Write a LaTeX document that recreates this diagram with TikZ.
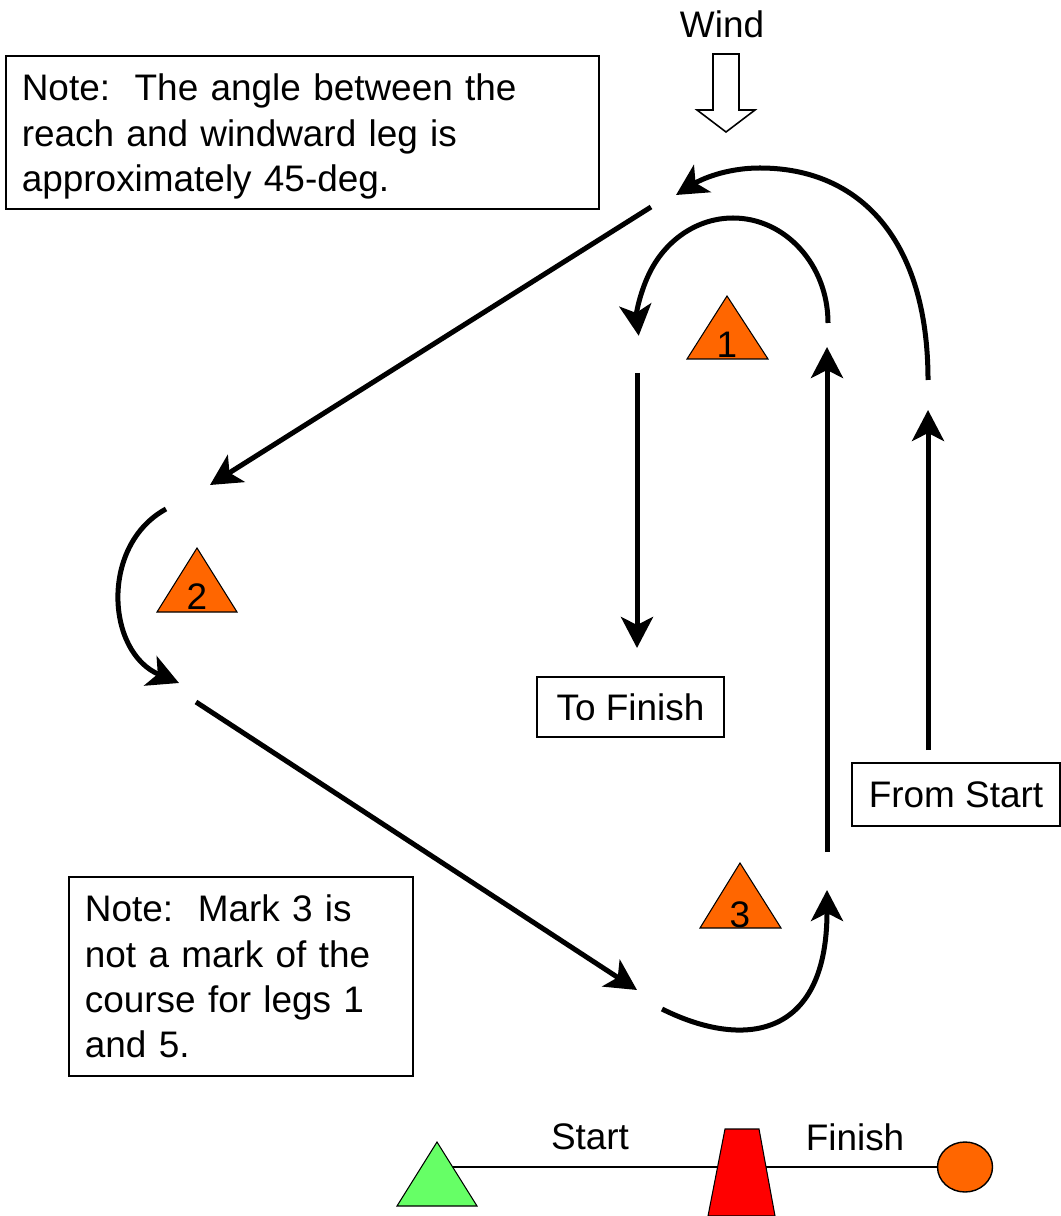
\documentclass[tikz,border=0pt]{standalone}
\usepackage{fontspec}
\setmainfont{Liberation Sans}
\usetikzlibrary{arrows.meta}
\definecolor{markorange}{RGB}{255,102,0}
\definecolor{pingreen}{RGB}{102,255,102}

\begin{document}
\begin{tikzpicture}[x=0.01cm, y=-0.01cm,
		every node/.style={font=\fontsize{10.5}{12.9}\selectfont},
		leg/.style={line width=0.05cm, -{Stealth[length=0.31cm, width=0.32cm, inset=0.08cm]}},
		buoy/.style={draw=black, line width=0.3pt, fill=markorange},
		notebox/.style={draw, line width=0.4pt, align=left, inner xsep=0.16cm, inner ysep=0pt},
		labelbox/.style={draw, line width=0.4pt, inner sep=0pt}]
		%%%%% START %%%%%
		\useasboundingbox (0,0) rectangle (1060,1216);
		
		% wind
		\node (wind) at (722,24) {Wind};
		\draw[line width=0.45pt] (713,54) -- (739,54) -- (739,110) -- (755,110) -- (726,132) -- (697,110) -- (713,110) -- cycle;
		
		% notes
		\node[notebox, text width=5.61cm, minimum height=1.53cm] (note1) at (302.5,132.5) {\rule{0pt}{0.35cm}Note:\ \ The angle between the\\reach and windward leg is\\approximately 45-deg.};
		\node[notebox, text width=3.12cm, minimum height=1.99cm] (note2) at (241,976.5) {Note:\ \ Mark 3 is\\not a mark of the\\course for legs 1\\and 5.};
		\node[labelbox, minimum width=1.87cm, minimum height=0.6cm] (tofinish) at (630.5,707) {To Finish};
		\node[labelbox, minimum width=2.08cm, minimum height=0.63cm] (fromstart) at (956,794.5) {From Start};
		
		% marks
		\draw[buoy] (727,296) -- (768,359) -- (687,359) -- cycle;
		\node (m1) at (727,345) {1};
		\draw[buoy] (197,548) -- (237,612) -- (157,612) -- cycle;
		\node (m2) at (197,597) {2};
		\draw[buoy] (740,863) -- (781,928) -- (700,928) -- cycle;
		\node (m3) at (740,915) {3};
		
		% legs
		\draw[leg] (651,207) -- (210,485);
		\draw[leg] (166,509) .. controls (100,545) and (106,652) .. (179,683);
		\draw[leg] (196,702) -- (637,990);
		\draw[leg] (662,1009) .. controls (742,1049) and (827,1040) .. (827,890);
		\draw[leg] (827,852) -- (827,347);
		\draw[leg] (828,323) arc[start angle=0, end angle=-187, x radius=95, y radius=105];
		\draw[leg] (637,373) -- (637,648);
		\draw[leg] (928,750) -- (928,410);
		\draw[leg] (928,380) .. controls (928,240) and (860,168) .. (760,168) .. controls (725,168) and (700,180) .. (676,195);
		
		% start / finish line
		\coordinate (pin) at (437,1167);
		\coordinate (boat) at (742,1167);
		\coordinate (fpin) at (965,1167);
		\draw[line width=0.4pt] (pin) -- (boat) -- (fpin);
		\draw[fill=pingreen, line width=0.3pt] (437,1142) -- (477,1206) -- (397,1206) -- cycle;
		\draw[fill=red, line width=0.3pt] (725,1129) -- (759,1129) -- (775,1216) -- (708,1216) -- cycle;
		\draw[fill=markorange, line width=0.4pt] (fpin) ellipse [x radius=27.5, y radius=25];
		\node (start) at (590,1137) {Start};
		\node (finish) at (855,1137) {Finish};
		%%%%% END %%%%%
\end{tikzpicture}
\end{document}
